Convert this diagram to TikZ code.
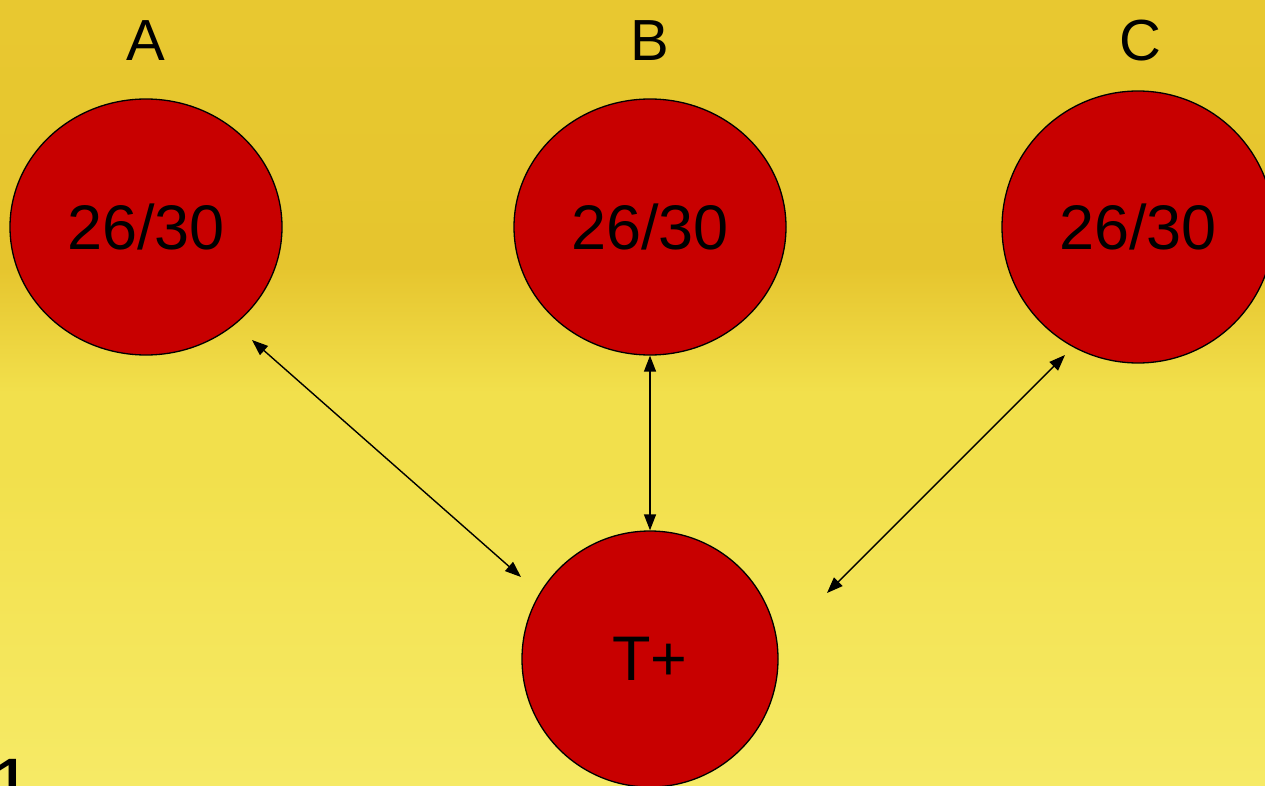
\documentclass[tikz,border=0pt]{standalone}
\usepackage{fontspec}
\setmainfont{Liberation Sans}
\usetikzlibrary{shapes.geometric,arrows.meta}
\definecolor{cellred}{HTML}{C80000}
\definecolor{papertop}{HTML}{E8C830}
\definecolor{paperdark}{HTML}{E6C52E}
\definecolor{paperlight}{HTML}{F2E04C}
\definecolor{paperbot}{HTML}{F6EA66}
% the path is mapped onto 25bp..75bp of the shading
\pgfdeclareverticalshading{paper}{100bp}{color(0bp)=(paperbot); color(25bp)=(paperbot); color(45bp)=(paperlight); color(50bp)=(paperlight); color(58bp)=(paperdark); color(75bp)=(papertop); color(100bp)=(papertop)}

\begin{document}
\begin{tikzpicture}[x=1pt,y=-1pt,
    cell/.style={ellipse,draw=black,line width=1.3pt,fill=cellred,inner sep=0pt,
      font=\fontsize{63}{70}\selectfont},
    link/.style={{Triangle[length=16pt,width=12pt]}-{Triangle[length=16pt,width=12pt]},line width=1.4pt},
    tag/.style={font=\fontsize{58}{64}\selectfont}]
    % Draw the background
    \shade[shading=paper] (0,0) rectangle (1265,786);
    \useasboundingbox (0,0) rectangle (1265,786);
    % Draw the three groups
    \node[cell,minimum width=272pt,minimum height=256pt] (A) at (146,227) {26/30};
    \node[cell,minimum width=272pt,minimum height=256pt] (B) at (650,227) {26/30};
    \node[cell,minimum width=272pt,minimum height=272pt] (C) at (1138,227) {26/30};
    \node[cell,minimum width=256pt,minimum height=256pt] (T) at (650,659) {T+};
    % Draw the group names
    \node[tag] (nameA) at (146,41) {A};
    \node[tag] (nameB) at (650,41) {B};
    \node[tag] (nameC) at (1140,41) {C};
    % Draw the arrow ends
    \coordinate (a1) at (252,340);
    \coordinate (a2) at (521,577);
    \coordinate (c1) at (1065,355);
    \coordinate (c2) at (827,593);
    % Draw the links
    \draw[link] (a1) -- (a2);
    \draw[link] (B.south) -- (T.north);
    \draw[link] (c1) -- (c2);
    % Draw the page number
    \node[anchor=base west,font=\bfseries\fontsize{54}{60}\selectfont] (page) at (-7,796) {1};
\end{tikzpicture}
\end{document}
